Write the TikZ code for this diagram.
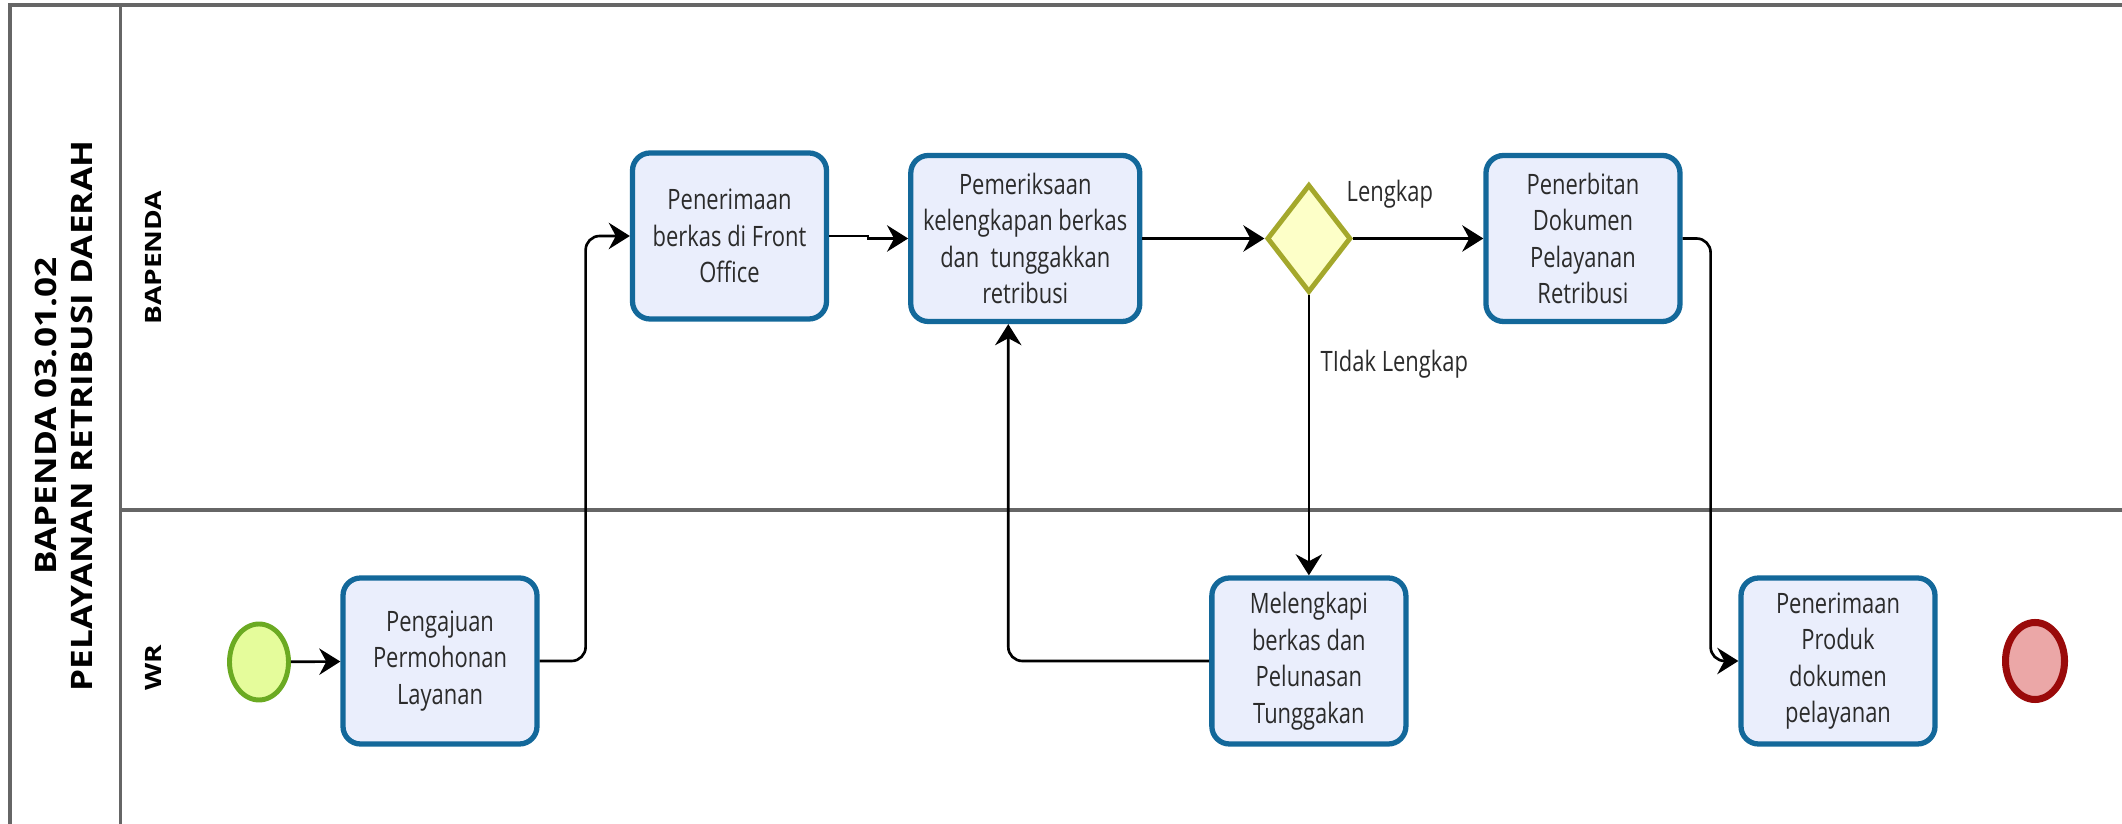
\documentclass[tikz,border=0pt]{standalone}
\usepackage{fontspec}
\setmainfont{Open Sans}[FakeStretch=0.78]
\newfontfamily\lanefont{Open Sans}
\usepackage{xcolor}
\usetikzlibrary{arrows.meta,positioning,shapes.geometric}
\definecolor{taskfill}{HTML}{EAEEFC}
\definecolor{taskline}{HTML}{13689A}
\definecolor{gatefill}{HTML}{FDFFC8}
\definecolor{gateline}{HTML}{A4A82C}
\definecolor{startfill}{HTML}{E5FC9B}
\definecolor{startline}{HTML}{6BAA22}
\definecolor{endfill}{HTML}{EBA7A7}
\definecolor{endline}{HTML}{9A0A0A}
\definecolor{poolline}{HTML}{666666}
\definecolor{tasktext}{HTML}{2B2B2B}

\begin{document}
\begin{tikzpicture}[
  task/.style={draw=taskline, line width=1.5pt, fill=taskfill, rounded corners=5pt, minimum width=1.94cm, minimum height=1.66cm, align=center, inner sep=1pt, text=tasktext, font=\fontsize{8}{10.4}\selectfont},
  gate/.style={diamond, draw=gateline, line width=1.4pt, fill=gatefill, minimum width=0.84cm, minimum height=1.08cm, inner sep=0pt},
  startev/.style={ellipse, draw=startline, line width=1.4pt, fill=startfill, minimum width=0.59cm, minimum height=0.76cm, inner sep=0pt},
  endev/.style={ellipse, draw=endline, line width=2pt, fill=endfill, minimum width=0.59cm, minimum height=0.77cm, inner sep=0pt},
  lane/.style={rotate=90, yscale=0.8, align=center, font=\lanefont\bfseries\fontsize{8}{10}\selectfont},
  pool/.style={draw=poolline, line width=0.9pt},
  arr/.style={-{Stealth[length=6pt, width=7.5pt, inset=2pt]}, line width=0.75pt, black, rounded corners=4pt},
  flowlabel/.style={font=\fontsize{8}{10}\selectfont, text=tasktext, anchor=base west, inner sep=0pt}
]
  \useasboundingbox (0,0) rectangle (21.22,-8.24);

  % pool and lanes
  \draw[pool] (21.22,-0.05) -- (0.10,-0.05) -- (0.10,-8.24);
  \draw[pool] (1.205,-0.05) -- (1.205,-8.24);
  \draw[pool] (1.205,-5.10) -- (21.22,-5.10);
  \node[lane, yscale=1.05, font=\lanefont\bfseries\fontsize{10}{12.4}\selectfont] (title) at (0.64,-4.16) {BAPENDA 03.01.02\\PELAYANAN RETRIBUSI DAERAH};
  \node[lane] (lanebap) at (1.535,-2.575) {BAPENDA};
  \node[lane] (lanewr) at (1.53,-6.68) {WR};

  % WR lane
  \node[startev] (start) at (2.59,-6.62) {};
  \node[task] (peng) at (4.40,-6.61) {Pengajuan\\Permohonan\\Layanan};

  % BAPENDA lane
  \node[task] (pen) at (7.295,-2.36) {Penerimaan\\berkas di Front\\Office};
  \node[task, minimum width=2.29cm, right=0.79cm of pen, yshift=-0.25mm] (pem) {Pemeriksaan\\kelengkapan berkas\\dan\ \ tunggakkan\\retribusi};
  \node[gate, right=1.22cm of pem] (gw) {};
  \node[task, right=1.30cm of gw] (pnb) {Penerbitan\\Dokumen\\Pelayanan\\Retribusi};

  \node[task] (mel) at (gw |- peng) {Melengkapi\\berkas dan\\Pelunasan\\Tunggakan};
  \node[task] (prod) at (18.38,-6.61) {Penerimaan\\Produk\\dokumen\\pelayanan};
  \node[endev] (end) at (20.35,-6.61) {};

  \node[flowlabel] (lbllengkap) at (13.46,-2.02) {Lengkap};
  \node[flowlabel] (lbltidak) at (13.20,-3.72) {TIdak Lengkap};

  % flows
  \draw[arr] (start) -- (peng);
  \draw[arr] (peng.east) -- ++(0.46,0) |- (pen.west);
  \draw[arr, sharp corners] (pen.east) -- ++(0.39,0) |- (pem.west);
  \draw[arr] (pem) -- (gw);
  \draw[arr] (gw) -- (pnb);
  \draw[arr] (gw.south) -- (mel.north);
  \draw[arr] (mel.west) -| ([xshift=-0.17cm]pem.south);
  \draw[arr] (pnb.east) -- ++(0.28,0) |- (prod.west);
\end{tikzpicture}
\end{document}
